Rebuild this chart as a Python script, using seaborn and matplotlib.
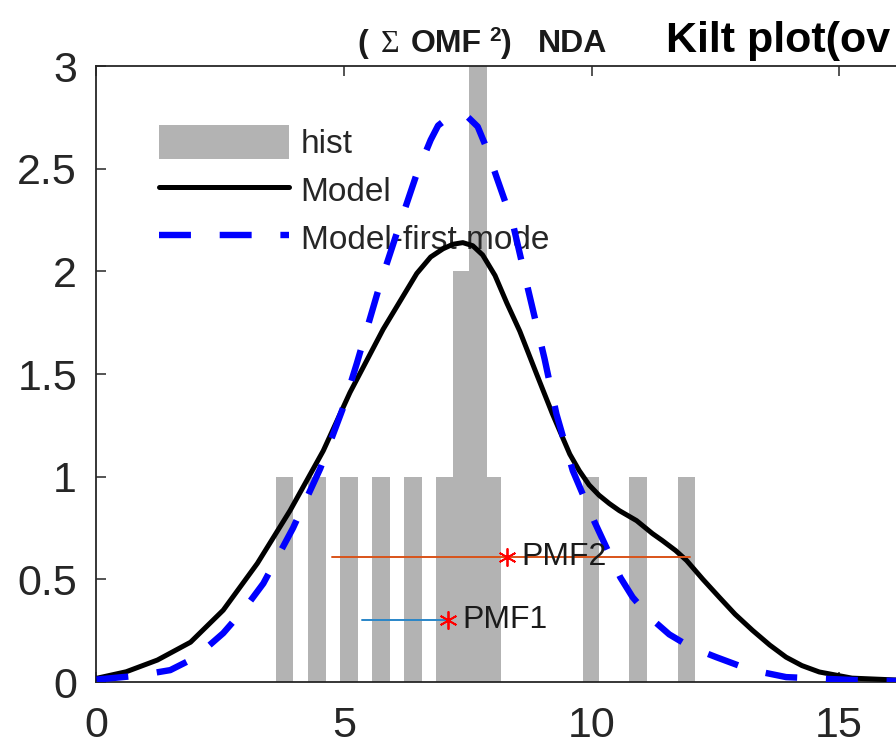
import numpy as np
import pandas as pd
import matplotlib
matplotlib.use("Agg")
import matplotlib.pyplot as plt
from matplotlib.patches import Patch
from matplotlib.lines import Line2D
import seaborn as sns

# ---- data ----
hist_centers = [3.80, 4.455, 5.10, 5.75, 6.395, 7.52, 7.54, 7.70, 9.99, 10.94, 11.915]
hist_widths = [0.35, 0.35, 0.357, 0.357, 0.37, 1.31, 0.68, 0.357, 0.336, 0.35, 0.35]
hist_heights = [1, 1, 1, 1, 1, 1, 2, 3, 1, 1, 1]

model_x = [0.0, 0.6, 1.23, 1.90, 2.56, 3.25, 3.91, 4.58, 5.12, 5.79, 6.47, 6.75, 7.00,
           7.20, 7.40, 7.60, 7.80, 8.05, 8.29, 8.55, 8.89, 9.21, 9.56, 9.75, 9.95,
           10.15, 10.36, 10.56, 10.91, 11.23, 11.43, 11.70, 11.92, 12.25, 12.58,
           12.90, 13.25, 13.60, 13.93, 14.25, 14.60, 15.26, 16.15]
model_y = [0.018, 0.05, 0.107, 0.194, 0.35, 0.578, 0.835, 1.126, 1.41, 1.718, 1.99, 2.07,
           2.11, 2.132, 2.14, 2.125, 2.08, 1.98, 1.845, 1.709, 1.50, 1.306, 1.11, 1.03,
           0.96, 0.91, 0.869, 0.835, 0.786, 0.723, 0.689, 0.64, 0.592, 0.50, 0.413,
           0.33, 0.252, 0.18, 0.121, 0.08, 0.049, 0.019, 0.01]

first_x = [0.0, 0.8, 1.49, 2.0, 2.56, 3.0, 3.37, 3.97, 4.52, 4.98, 5.26, 5.73, 6.13,
           6.47, 6.75, 6.90, 7.10, 7.30, 7.50, 7.70, 7.88, 8.08, 8.41, 8.72, 9.05,
           9.29, 9.62, 10.06, 10.58, 10.83, 11.20, 11.57, 12.00, 12.52, 13.20, 13.93,
           15.26, 16.15]
first_y = [0.012, 0.03, 0.058, 0.12, 0.238, 0.36, 0.48, 0.75, 1.04, 1.335, 1.553, 1.94,
           2.233, 2.476, 2.64, 2.71, 2.748, 2.762, 2.752, 2.705, 2.60, 2.46, 2.233, 1.91,
           1.575, 1.306, 1.03, 0.78, 0.51, 0.413, 0.31, 0.232, 0.17, 0.121, 0.06, 0.024,
           0.01, 0.005]

pmf_names = ["PMF1", "PMF2"]
pmf_lo = [5.36, 4.76]
pmf_hi = [7.14, 11.98]
pmf_val = [7.10, 8.29]
pmf_y = [0.30, 0.607]
pmf_colors = ["#2a86c8", "#D95319"]

xticks = [0, 5, 10, 15]
yticks = [0, 0.5, 1, 1.5, 2, 2.5, 3]
ytick_labels = ["0", "0.5", "1", "1.5", "2", "2.5", "3"]

sns.set_style("ticks")
plt.rcParams["font.family"] = ["Liberation Sans", "DejaVu Sans"]

fig = plt.figure(figsize=(8.96, 7.48), dpi=100)
ax = fig.add_axes([0.1077, 0.0882, 0.8923, 0.8235])

gray = "#b3b3b3"
ax.bar(hist_centers, hist_heights, width=hist_widths, color=gray, edgecolor="none",
       align="center", zorder=1)

df_model = pd.DataFrame({"x": model_x, "y": model_y})
df_first = pd.DataFrame({"x": first_x, "y": first_y})
sns.lineplot(data=df_model, x="x", y="y", ax=ax, color="black", linewidth=3.6,
             zorder=3, sort=False)
sns.lineplot(data=df_first, x="x", y="y", ax=ax, color="#0000ff", linewidth=4.6,
             linestyle=(0, (5, 4.5)), zorder=3, sort=False)

for name, lo, hi, v, yv, c in zip(pmf_names, pmf_lo, pmf_hi, pmf_val, pmf_y, pmf_colors):
    ax.plot([lo, hi], [yv, yv], color=c, linewidth=1.4, zorder=4)
    ax.plot([v], [yv], marker=(6, 2, 0), markersize=13, color="red",
            markeredgewidth=1.3, zorder=5, linestyle="none")
    ax.text(v + 0.3, yv, name, fontsize=23, va="center", ha="left", color="#1a1a1a",
            zorder=6)

ax.set_xlim(0, 16.15)
ax.set_ylim(0, 3)
ax.set_xticks(xticks)
ax.set_xticklabels([str(t) for t in xticks])
ax.set_yticks(yticks)
ax.set_yticklabels(ytick_labels)
ax.set_xlabel("")
ax.set_ylabel("")

for s in ["left", "bottom", "top"]:
    ax.spines[s].set_visible(True)
    ax.spines[s].set_color("#262626")
    ax.spines[s].set_linewidth(1.3)
ax.spines["right"].set_visible(False)
ax.tick_params(direction="in", length=7, width=1.1, top=True, right=False,
               labelsize=31, colors="#262626")
ax.tick_params(axis="x", pad=17)
ax.tick_params(axis="y", pad=14)

handles = [Patch(facecolor=gray, edgecolor="none"),
           Line2D([], [], color="black", linewidth=3.6),
           Line2D([], [], color="#0000ff", linewidth=4.6, linestyle=(0, (5, 4.5)))]
labels = ["hist", "Model", "Model-first mode"]
leg = ax.legend(handles, labels, loc="upper left", bbox_to_anchor=(0.078, 0.905),
                frameon=False, fontsize=24, handlelength=3.9, handleheight=1.2,
                labelspacing=0.38, handletextpad=0.35, borderpad=0, borderaxespad=0)
leg.set_zorder(2)

# title pieces
ty = 1 - 52 / 748
tcol = "#1a1a1a"
fig.text(357 / 896, ty, "(", fontsize=23, fontweight="bold", ha="left", va="baseline", color=tcol)
fig.text(381 / 896, ty, "\u03a3", fontsize=23, fontweight="normal", ha="left", va="baseline",
         color=tcol, family=["Liberation Serif", "DejaVu Serif"])
fig.text(411 / 896, ty, "OMF", fontsize=23, fontweight="bold", ha="left", va="baseline", color=tcol)
fig.text(489 / 896, ty + 11 / 748, "2", fontsize=15, fontweight="bold", ha="left", va="baseline", color=tcol)
fig.text(501 / 896, ty, ")", fontsize=23, fontweight="bold", ha="left", va="baseline", color=tcol)
fig.text(538 / 896, ty, "NDA", fontsize=23, fontweight="bold", ha="left", va="baseline", color=tcol)
fig.text(666 / 896, ty, "Kilt plot(ov", fontsize=31,
         fontweight="bold", ha="left", va="baseline", color="black")

fig.savefig("out.png", dpi=100)
